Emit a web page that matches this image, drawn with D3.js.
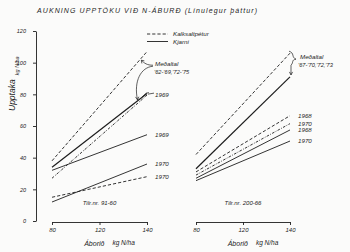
<!DOCTYPE html>
<html>
<head>
<meta charset="utf-8">
<script src="https://cdn.jsdelivr.net/npm/d3@7"></script>
<style>
  body { margin: 0; background: #fbfbfa; }
  svg { display: block; font-family: 'Liberation Sans', 'DejaVu Sans', sans-serif; font-style: italic; }
</style>
</head>
<body>
<div class="container"></div>
<script>
const WIDTH = 350
const HEIGHT = 252

// x ticks as drawn on the sheet (evenly spaced), lines run 80 -> 140
const nLevels = ['80', '120', '140']
const lineEnds = ['80', '140']
const yTicks = [0, 20, 40, 60, 80, 100, 120]

// Tilr.nr. 91-60
const leftTypes = ['kalk', 'kjarni', 'kalkYear', 'kjarni', 'kjarni', 'kalk']
const leftValues = [[38, 107], [34, 80.5], [27, 79.5], [32, 54.5], [12, 36], [15, 28]]
const leftLabels = ['', '', '1969', '1969', '1970', '1970']

// Tilr.nr. 200-66
const rightTypes = ['kalk', 'kjarni', 'kalk', 'kalkYear', 'kjarni', 'kjarni']
const rightValues = [[42, 106], [33, 91], [31, 66.5], [29, 61.5], [27, 57.5], [25.5, 50.5]]
const rightLabels = ['', '', '1968', '1970', '1968', '1970']

const ink = '#1d1d1d'
const dashes = { kalk: '3.2,2', kjarni: null, kalkYear: '2.6,1.4,0.8,1.4' }

const panels = [
    { name: 'Tilr.nr. 91-60', types: leftTypes, values: leftValues, labels: leftLabels, range: [52, 147] },
    { name: 'Tilr.nr. 200-66', types: rightTypes, values: rightValues, labels: rightLabels, range: [196, 290] }
]

const svg = d3.select('.container').append('svg')
    .attr('width', WIDTH)
    .attr('height', HEIGHT)
    .attr('viewBox', `0 0 ${WIDTH} ${HEIGHT}`)

const y = d3.scaleLinear().domain([0, 120]).range([221, 31])

// title
svg.append('text')
    .attr('x', 37).attr('y', 13)
    .attr('font-size', 7)
    .attr('textLength', 220)
    .attr('lengthAdjust', 'spacing')
    .attr('fill', ink)
    .text('AUKNING UPPTÖKU  VIÐ  N-ÁBURÐ (Línulegur þáttur)')

// y axis
const yAxis = svg.append('g')
    .attr('transform', 'translate(36,0)')
    .call(d3.axisLeft(y).tickValues(yTicks).tickSize(3).tickSizeOuter(0).tickPadding(7))
yAxis.selectAll('path, line').attr('stroke', ink).attr('stroke-width', 0.9)
yAxis.selectAll('text').attr('font-size', 5.5).attr('fill', ink)
    .attr('font-family', "'Liberation Sans', sans-serif")

const yLab = svg.append('text')
    .attr('transform', 'translate(15,111) rotate(-90)')
    .attr('fill', ink)
yLab.append('tspan').attr('font-size', 8.5).text('Upptaka')
yLab.append('tspan').attr('font-size', 5.5).attr('dx', 4).attr('dy', 4).text('kg N/ha')

// legend
const legend = svg.append('g').attr('transform', 'translate(147,0)')
const legendItems = [['kalk', 'Kalksaltpétur', 34], ['kjarni', 'Kjarni', 41.5]]
legendItems.forEach(([t, label, ly]) => {
    legend.append('line')
        .attr('x1', 0).attr('x2', 21).attr('y1', ly).attr('y2', ly)
        .attr('stroke', ink).attr('stroke-width', 0.9)
        .attr('stroke-dasharray', dashes[t])
    legend.append('text')
        .attr('x', 26).attr('y', ly + 2)
        .attr('font-size', 6.2).attr('fill', ink)
        .text(label)
})

const line = d3.line()

panels.forEach((p, pi) => {
    const x = d3.scalePoint().domain(nLevels).range(p.range)
    const g = svg.append('g')

    const xAxis = g.append('g')
        .attr('transform', 'translate(0,222)')
        .call(d3.axisBottom(x).tickSize(3).tickSizeOuter(0).tickPadding(3))
    xAxis.selectAll('path, line').attr('stroke', ink).attr('stroke-width', 0.9)
    xAxis.selectAll('text').attr('font-size', 6).attr('fill', ink)
        .attr('font-family', "'Liberation Sans', sans-serif")

    const mid = (p.range[0] + p.range[1]) / 2
    const xl = g.append('text').attr('x', mid + 10).attr('y', 246)
        .attr('text-anchor', 'middle').attr('fill', ink)
    xl.append('tspan').attr('font-size', 7).text('Áborið')
    xl.append('tspan').attr('font-size', 6.5).attr('dx', 8).attr('dy', -1.5).text('kg N/ha')

    g.append('text')
        .attr('x', mid).attr('y', 205)
        .attr('text-anchor', 'middle')
        .attr('font-size', 6).attr('fill', ink)
        .text(p.name)

    g.selectAll('path.series')
        .data(p.values)
        .join('path')
        .attr('class', 'series')
        .attr('fill', 'none')
        .attr('stroke', ink)
        .attr('stroke-width', (d, i) => p.types[i] === 'kjarni' && i < 2 ? 1.2 : 0.9)
        .attr('stroke-dasharray', (d, i) => dashes[p.types[i]])
        .attr('d', d => line(d.map((v, k) => [x(lineEnds[k]), y(v)])))

    g.selectAll('text.year')
        .data(p.values)
        .join('text')
        .attr('class', 'year')
        .attr('x', x(lineEnds[1]) + 8)
        .attr('y', d => y(d[1]) + 2)
        .attr('font-size', 6.2).attr('fill', ink)
        .text((d, i) => p.labels[i])

    // point on a series line, t = 0..1 between 80 and 140
    const at = (i, t) => {
        const [a, b] = p.values[i]
        const x0 = x(lineEnds[0]), x1 = x(lineEnds[1])
        return [x0 + (x1 - x0) * t, y(a + (b - a) * t)]
    }

    const ann = g.append('g').attr('fill', 'none').attr('stroke', ink).attr('stroke-width', 0.7)
    const tx = x(lineEnds[1])
    if (pi === 0) {
        const [ax, ay] = at(0, 0.93)
        const [bx, by] = at(1, 0.9)
        ann.append('path').attr('d', `M${tx + 6},${ay + 6} C${tx},${ay + 6} ${ax + 4},${ay + 4} ${ax + 1},${ay + 1}`)
        ann.append('path').attr('d', `M${ax + 1},${ay + 1} l0.5,3.2 M${ax + 1},${ay + 1} l3,0.6`)
        ann.append('path').attr('d', `M${tx + 6},${ay + 7} C${tx - 6},${ay + 8} ${bx - 4},${by - 20} ${bx},${by - 1}`)
        ann.append('path').attr('d', `M${bx},${by - 1} l-2,-3 M${bx},${by - 1} l1.4,-3.2`)
        const [cx, cy] = at(2, 1)
        ann.append('path').attr('d', `M${cx + 1},${cy - 1} L${cx + 7},${cy - 2}`)
        ann.append('path').attr('d', `M${cx - 5},${cy + 2} L${cx - 1},${cy - 2} L${cx + 2},${cy - 2.5}`)
        g.append('text').attr('x', tx + 8).attr('y', ay + 7).attr('font-size', 6.2).attr('fill', ink).text('Meðaltal')
        g.append('text').attr('x', tx + 7).attr('y', ay + 14.5).attr('font-size', 5.6).attr('fill', ink).text('’62-’69,’72-’75')
    } else {
        const [ax, ay] = at(0, 1)
        const [bx, by] = at(1, 1)
        ann.append('path').attr('d', `M${ax - 1},${ay - 2} C${ax + 5},${ay} ${ax + 1},${ay + 4} ${ax + 6},${ay + 6} C${ax + 1},${ay + 7} ${ax + 4},${ay + 9} ${ax + 1},${ay + 12}`)
        ann.append('path').attr('d', `M${bx + 1},${ay + 12} L${bx + 1},${by - 2} M${bx + 1},${by - 2} l-1.6,-3 M${bx + 1},${by - 2} l1.6,-3`)
        g.append('text').attr('x', tx + 10).attr('y', ay + 6).attr('font-size', 6.2).attr('fill', ink).text('Meðaltal')
        g.append('text').attr('x', tx + 8).attr('y', ay + 14).attr('font-size', 5.6).attr('fill', ink).text('’67-’70,’72,’73')
    }
})
</script>
</body>
</html>
